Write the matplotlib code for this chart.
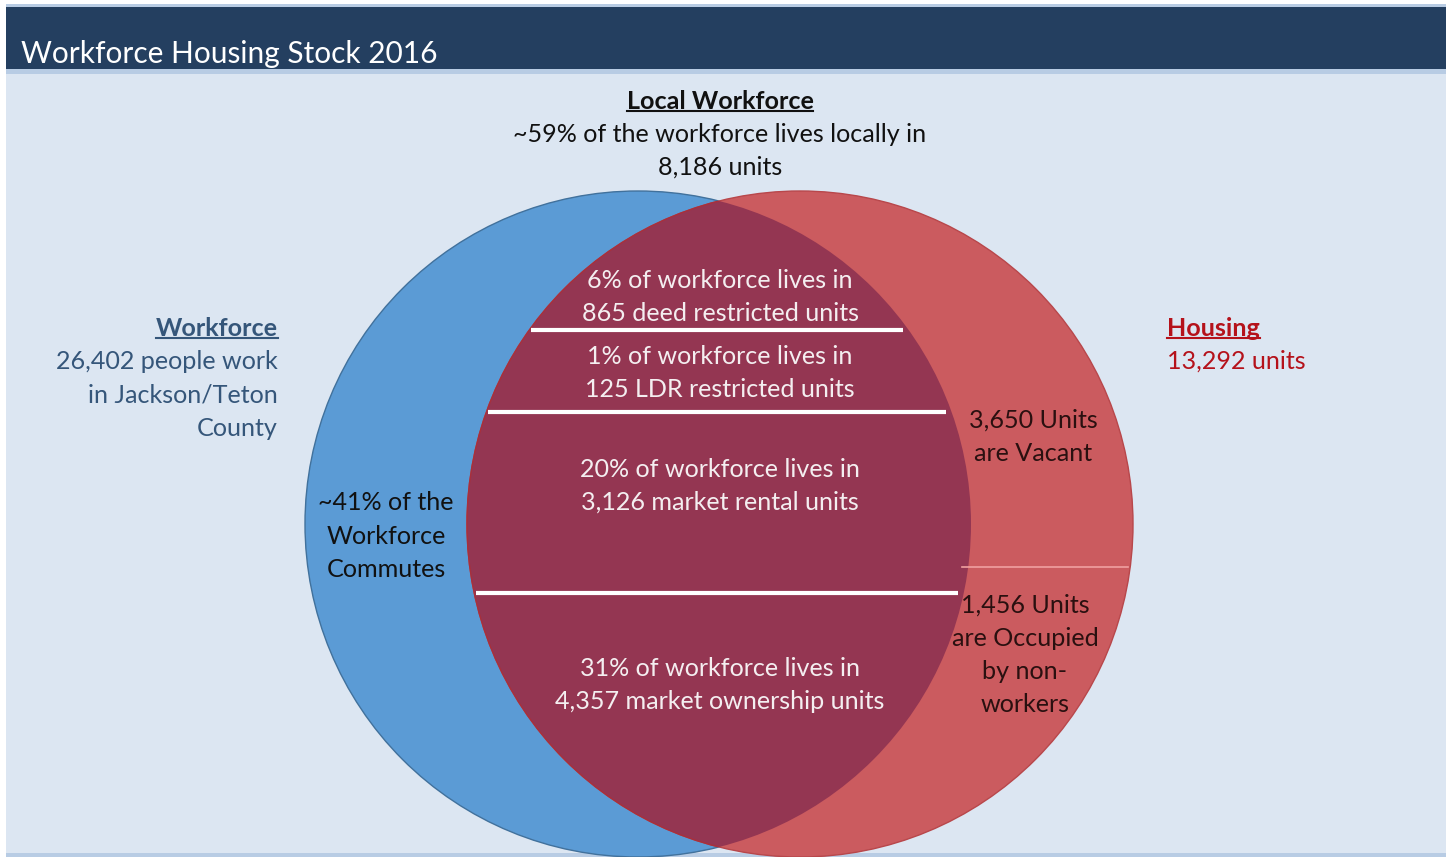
import matplotlib.pyplot as plt
from matplotlib.patches import Circle, Rectangle
import numpy as np

# data
title = "Workforce Housing Stock 2016"
workforce_total = 26402
housing_total = 13292
local_pct = 59
local_units = 8186
commute_pct = 41
vacant_units = 3650
nonworker_units = 1456
seg_pct = [6, 1, 20, 31]
seg_units = [865, 125, 3126, 4357]
seg_kind = ["deed restricted", "LDR restricted", "market rental", "market ownership"]

# layout (pixels)
W, H = 1449, 857
bx, rx, cy, R = 638, 800, 524, 333
seg_text_y = [297, 373, 486, 685]
seg_line_y = [330, 412, 593]
split_y = 567

FONT = ["Lato", "DejaVu Sans"]
fs = 18.1
ls = 1.53

fig = plt.figure(figsize=(W / 100, H / 100), dpi=100)
ax = fig.add_axes([0, 0, 1, 1])
ax.set_xlim(0, W)
ax.set_ylim(H, 0)
ax.axis("off")
fig.patch.set_facecolor("white")

# frame and title bar
ax.add_patch(Rectangle((6, 4), 1440, 852, fc="#dce6f2", ec="none"))
ax.add_patch(Rectangle((6, 4), 1440, 3, fc="#b8cce4", ec="none"))
ax.add_patch(Rectangle((6, 69), 1440, 5, fc="#b8cce4", ec="none"))
ax.add_patch(Rectangle((6, 853), 1440, 4, fc="#b8cce4", ec="none"))
ax.add_patch(Rectangle((6, 7), 1440, 62, fc="#243f60", ec="none"))
ax.text(21, 54, title, color="white", fontsize=21.5, family=FONT,
        va="center", ha="left")

# venn circles
blue = Circle((bx, cy), R, fc="#5b9bd5", ec="#41719c", lw=1)
red = Circle((rx, cy), R, fc="#cb5b5f", ec="#b8474b", lw=1)
ax.add_patch(blue)
ax.add_patch(red)
clip = Circle((bx, cy), R, transform=ax.transData, fc="none", ec="none")
ax.add_patch(clip)
lens = Circle((rx, cy), R, fc="#943652", ec="#a8303c", lw=1)
ax.add_patch(lens)
lens.set_clip_path(clip)

# white divider lines inside the overlap
for y in seg_line_y:
    half = np.sqrt(R ** 2 - (y - cy) ** 2)
    ax.plot([rx - half + 2, bx + half - 6], [y, y], color="white", lw=3,
            solid_capstyle="butt")

# line splitting vacant / occupied part of housing
half = np.sqrt(R ** 2 - (split_y - cy) ** 2)
ax.plot([bx + half - 6, rx + half - 2], [split_y, split_y], color="#f0a0a0", lw=1.2)

for p, u, k, y in zip(seg_pct, seg_units, seg_kind, seg_text_y):
    ax.text(720, y, f"{p}% of workforce lives in\n{u:,} {k} units", color="#f4eef0",
            fontsize=fs, family=FONT, ha="center", va="center", linespacing=ls)

ax.text(386, 536, f"~{commute_pct}% of the\nWorkforce\nCommutes", color="#111111",
        fontsize=fs, family=FONT, ha="center", va="center", linespacing=ls)
ax.text(1033, 437, f"{vacant_units:,} Units\nare Vacant", color="#2a1010",
        fontsize=fs, family=FONT, ha="center", va="center", linespacing=ls)
ax.text(1025, 655, f"{nonworker_units:,} Units\nare Occupied\nby non-\nworkers", color="#2a1010",
        fontsize=fs, family=FONT, ha="center", va="center", linespacing=ls)

renderer = fig.canvas.get_renderer()
inv = ax.transData.inverted()


def underlined(x, y, s, color, ha):
    t = ax.text(x, y, s, color=color, fontsize=fs, family=FONT, fontweight="bold",
                ha=ha, va="center")
    bb = t.get_window_extent(renderer)
    (x0, y0), (x1, y1) = inv.transform([[bb.x0, bb.y0], [bb.x1, bb.y1]])
    ax.plot([x0, x1], [y0 - 2, y0 - 2], color=color, lw=1.5)


underlined(720, 101, "Local Workforce", "#111111", "center")
ax.text(720, 151, f"~{local_pct}% of the workforce lives locally in\n{local_units:,} units",
        color="#111111", fontsize=fs, family=FONT, ha="center", va="center", linespacing=ls)

underlined(278, 328, "Workforce", "#35567a", "right")
ax.text(278, 395, f"{workforce_total:,} people work\nin Jackson/Teton\nCounty",
        color="#35567a", fontsize=fs, family=FONT, ha="right", va="center", linespacing=ls)

underlined(1167, 328, "Housing", "#b5121b", "left")
ax.text(1167, 361, f"{housing_total:,} units", color="#b5121b", fontsize=fs,
        family=FONT, ha="left", va="center")

fig.savefig("out.png", dpi=100)
